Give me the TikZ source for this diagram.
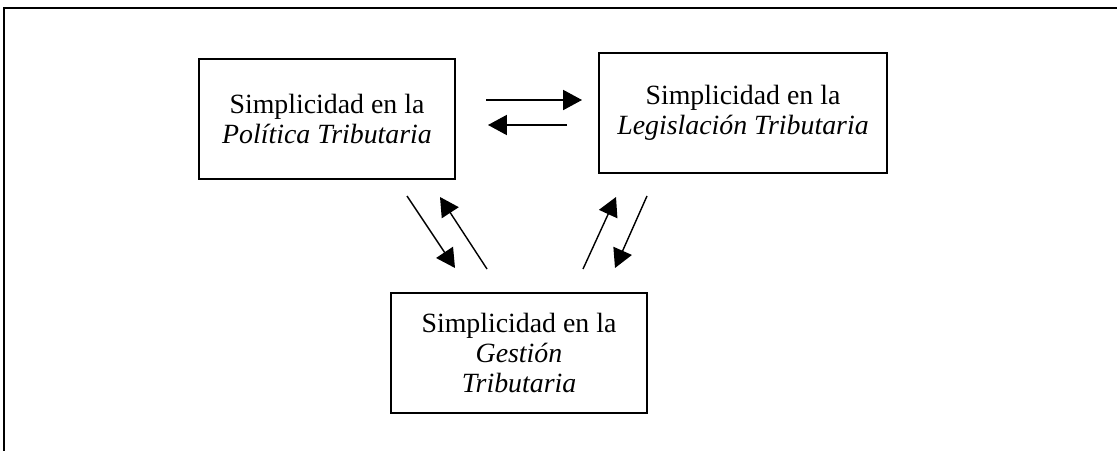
\documentclass[tikz,border=0pt]{standalone}
\usepackage{fontspec}
\setmainfont{Liberation Serif}
\usetikzlibrary{arrows.meta}
\tikzset{
caja/.style={draw,line width=1.2pt,minimum width=6.4cm,minimum height=3cm,align=center,inner sep=0pt,font=\fontsize{19.8pt}{21.3pt}\selectfont},
flecha/.style={line width=1pt,-{Triangle[length=0.47cm,width=0.5cm]}}
}
\begin{document}
\begin{tikzpicture}
\path[use as bounding box] (0,0) rectangle (27.925,11.275);
\draw[line width=1.2pt](27.925,11.075)--(0.1,11.075)--(0.1,0);
\node[caja](politica) at (8.175,8.3){Simplicidad en la\\\textit{Política Tributaria}};
\node[caja,minimum width=7.2cm](legislacion) at (18.575,8.45){Simplicidad en la\\\textit{Legislación Tributaria}};
\node[caja](gestion) at (12.975,2.45){Simplicidad en la\\\textit{Gestión}\\\textit{Tributaria}};
% puntos libres de las flechas
\coordinate(pl1) at (12.15,8.775);
\coordinate(lp1) at (14.55,8.775);
\coordinate(lp2) at (14.175,8.15);
\coordinate(pl2) at (12.2,8.15);
\coordinate(pg1) at (10.175,6.375);
\coordinate(gp1) at (11.375,4.575);
\coordinate(gp2) at (12.175,4.55);
\coordinate(pg2) at (11.0,6.35);
\coordinate(gl1) at (14.575,4.55);
\coordinate(lg1) at (15.4,6.35);
\coordinate(lg2) at (16.175,6.375);
\coordinate(gl2) at (15.375,4.575);
\draw[flecha](pl1)--(lp1);
\draw[flecha](lp2)--(pl2);
\draw[flecha](pg1)--(gp1);
\draw[flecha](gp2)--(pg2);
\draw[flecha](gl1)--(lg1);
\draw[flecha](lg2)--(gl2);
\end{tikzpicture}
\end{document}
